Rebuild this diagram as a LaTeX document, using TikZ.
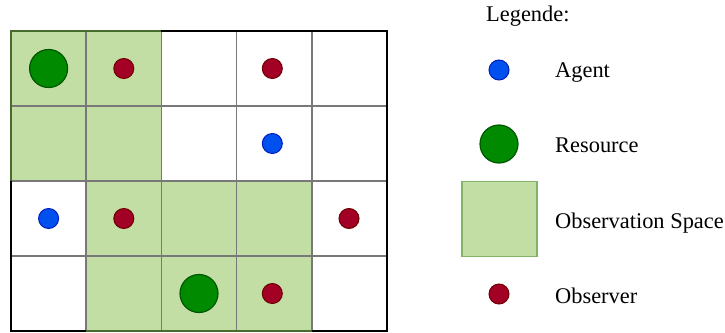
\documentclass[tikz,border=0pt]{standalone}
\usepackage{fontspec}
\setmainfont{Liberation Serif}
\definecolor{obsfill}{RGB}{195,222,165}
\definecolor{obsdraw}{RGB}{130,179,102}
\definecolor{obsedge}{RGB}{70,107,44}
\definecolor{gridgray}{RGB}{120,120,120}
\definecolor{agentfill}{RGB}{0,80,239}
\definecolor{agentdraw}{RGB}{0,29,188}
\definecolor{resfill}{RGB}{0,138,0}
\definecolor{resdraw}{RGB}{0,87,0}
\definecolor{obsvfill}{RGB}{162,0,37}
\definecolor{obsvdraw}{RGB}{111,0,0}
\tikzset{
  agent/.style={circle, fill=agentfill, draw=agentdraw, line width=1pt, minimum size=20pt, inner sep=0pt},
  resource/.style={circle, fill=resfill, draw=resdraw, line width=1.2pt, minimum size=38pt, inner sep=0pt},
  observer/.style={circle, fill=obsvfill, draw=obsvdraw, line width=1pt, minimum size=20pt, inner sep=0pt},
  legtext/.style={anchor=base west, inner sep=0pt, font=\fontsize{22.4}{26}\selectfont},
}
\begin{document}
\begin{tikzpicture}[x=1pt,y=-1pt]
\useasboundingbox (0,0) rectangle (725,332);
% green observation cells
\foreach \c/\r in {0/0,1/0,0/1,1/1,1/2,2/2,3/2,1/3,2/3,3/3}{
  \fill[obsfill] (11+75.2*\c,31+75*\r) rectangle (11+75.2*\c+75.2,31+75*\r+75);
}
% inner grid lines
\foreach \c in {1,2,3,4}{
  \draw[gridgray, line width=1.6pt] (11+75.2*\c,31) -- (11+75.2*\c,331);
}
\foreach \r in {1,2,3}{
  \draw[gridgray, line width=1.6pt] (11,31+75*\r) -- (387,31+75*\r);
}
% outer border
\draw[black, line width=2pt] (11,31) rectangle (387,331);
\draw[obsedge, line width=2pt] (11,181) -- (11,31) -- (161.4,31);
\draw[obsedge, line width=2pt] (86.2,331) -- (311.8,331);
% grid items
\node[resource] (r1) at (48.6,68.5) {};
\node[observer] (o1) at (123.8,68.5) {};
\node[observer] (o2) at (272.3,68.5) {};
\node[agent] (a1) at (272.3,143.5) {};
\node[agent] (a2) at (48.6,218.5) {};
\node[observer] (o3) at (123.8,218.5) {};
\node[observer] (o4) at (349,218.5) {};
\node[resource] (r2) at (199,293.5) {};
\node[observer] (o5) at (272.3,293.5) {};
% legend
\node[legtext] (lt) at (486,21) {Legende:};
\node[agent] (la) at (499,70) {};
\node[legtext] (lat) at (555,77) {Agent};
\node[resource] (lr) at (499,144) {};
\node[legtext] (lrt) at (555,152) {Resource};
\node[fill=obsfill, draw=obsdraw, line width=1.2pt, minimum width=75pt, minimum height=75pt, inner sep=0pt] (ls) at (499.5,219) {};
\node[legtext] (lst) at (555,228) {Observation Space};
\node[observer] (lo) at (499,294) {};
\node[legtext] (lot) at (555,303) {Observer};
\end{tikzpicture}
\end{document}
